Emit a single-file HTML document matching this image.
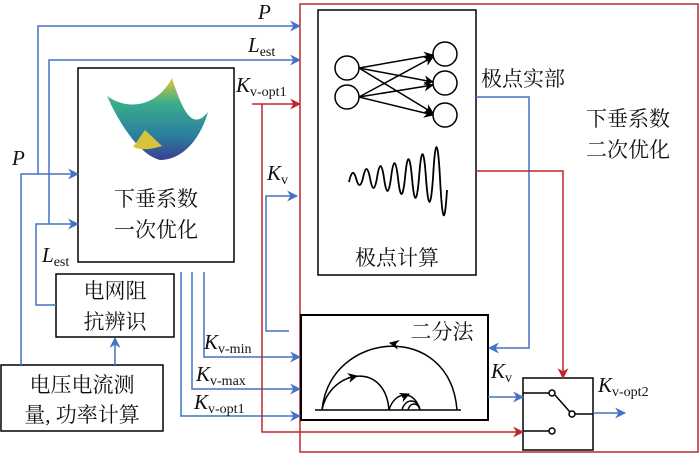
<!DOCTYPE html>
<html><head><meta charset="utf-8"><style>
html,body{margin:0;padding:0;background:#fff;}
svg{display:block;}
.cn{font-family:"Liberation Serif","Noto Serif CJK SC",serif;font-size:21px;fill:#111;}
.it{font-family:"Liberation Serif",serif;font-style:italic;font-size:21px;fill:#111;}
.sub{font-family:"Liberation Serif",serif;font-style:normal;font-size:14px;}
</style></head><body>
<svg width="700" height="455" viewBox="0 0 700 455" xmlns="http://www.w3.org/2000/svg">
<defs>
<marker id="ab" viewBox="0 0 10 10" refX="9" refY="5" markerWidth="11" markerHeight="11" markerUnits="userSpaceOnUse" orient="auto"><path d="M0,0 L10,5 L0,10 L3,5z" fill="#4472c4"/></marker>
<marker id="ar" viewBox="0 0 10 10" refX="9" refY="5" markerWidth="11" markerHeight="11" markerUnits="userSpaceOnUse" orient="auto"><path d="M0,0 L10,5 L0,10 L3,5z" fill="#c0272d"/></marker>
<marker id="ak" viewBox="0 0 10 10" refX="9" refY="5" markerWidth="10" markerHeight="10" markerUnits="userSpaceOnUse" orient="auto"><path d="M0,0 L10,5 L0,10 L3,5z" fill="#000"/></marker>
<linearGradient id="sg" x1="0" y1="0" x2="0" y2="1">
<stop offset="0" stop-color="#e8c53a"/><stop offset="0.3" stop-color="#3aae8a"/><stop offset="0.7" stop-color="#2a7fa0"/><stop offset="1" stop-color="#3b3f8f"/></linearGradient>
</defs>
<rect x="300" y="4" width="398" height="448" fill="none" stroke="#c0272d" stroke-width="1.5"/>
<rect x="78" y="68" width="156" height="194" fill="#fff" stroke="#000" stroke-width="1.5"/>
<rect x="318" y="10" width="158" height="265" fill="#fff" stroke="#000" stroke-width="1.5"/>
<rect x="56" y="274" width="118" height="63" fill="#fff" stroke="#000" stroke-width="1.5"/>
<rect x="1" y="365" width="162" height="66" fill="#fff" stroke="#000" stroke-width="1.5"/>
<rect x="301" y="315" width="187" height="105" fill="#fff" stroke="#000" stroke-width="2"/>
<rect x="523" y="378" width="70" height="72" fill="#fff" stroke="#000" stroke-width="1.5"/>

<g fill="none" stroke="#4472c4" stroke-width="1.5">
<path d="M38,174 V26 H300" marker-end="url(#ab)"/>
<path d="M49,224 V60 H300" marker-end="url(#ab)"/>
<path d="M21,365 V174 H78" marker-end="url(#ab)"/>
<path d="M56,305 H36 V224 H78" marker-end="url(#ab)"/>
<path d="M115,365 V338" marker-end="url(#ab)"/>
<path d="M289,331 H266 V196 H297" marker-end="url(#ab)"/>
<path d="M204,272 V357 H300" marker-end="url(#ab)"/>
<path d="M192,272 V389 H300" marker-end="url(#ab)"/>
<path d="M181,272 V416 H300" marker-end="url(#ab)"/>
<path d="M476,97 H529 V348 H489" marker-end="url(#ab)"/>
<path d="M488,397 H523" marker-end="url(#ab)"/>
<path d="M593,413 H625" marker-end="url(#ab)"/>
</g>
<g fill="none" stroke="#c0272d" stroke-width="1.5">
<path d="M252,104 H300" marker-end="url(#ar)"/>
<path d="M262,104 V432 H523" marker-end="url(#ar)"/>
<path d="M476,171 H563 V378" marker-end="url(#ar)"/>
</g>

<path d="M107,96 C120,125 140,155 160,160 C182,160 200,140 208,112 C195,128 185,120 172,78 C158,105 130,112 107,96Z" fill="url(#sg)"/>
<path d="M133,147 L145,130 L162,146 C150,150 140,150 133,147Z" fill="#d9c23d"/>

<g fill="#fff" stroke="#000" stroke-width="1.5">
<circle cx="347" cy="68" r="12"/><circle cx="347" cy="97" r="12"/>
<circle cx="445" cy="54" r="12"/><circle cx="445" cy="83" r="12"/><circle cx="445" cy="115" r="12"/>
</g>
<g stroke="#000" stroke-width="1.5" fill="none">
<path d="M359,68 L433,55" marker-end="url(#ak)"/><path d="M359,68 L433,82" marker-end="url(#ak)"/><path d="M359,68 L433,113" marker-end="url(#ak)"/>
<path d="M359,97 L433,57" marker-end="url(#ak)"/><path d="M359,97 L433,85" marker-end="url(#ak)"/><path d="M359,97 L433,115" marker-end="url(#ak)"/>
<path d="M349,182 Q352.5,166 356,178 Q359.5,192 363,178 Q366.5,160 370,178 Q373.5,198 377,178 Q380.5,154 384,178 Q387.5,204 391,178 Q394.5,148 398,178 Q401.5,210 405,178 Q408.5,140 412,178 Q415.5,218 419,178 Q422.5,130 426,178 Q429.5,226 433,178 Q436.5,116 440,178 Q443.5,246 447,190" stroke-width="1.8"/>
</g>

<g stroke="#000" stroke-width="1.5" fill="none">
<path d="M315,410 H461"/>
<path d="M322,410 C330,330 450,320 457,410"/>
<path d="M322,410 C330,370 385,360 389,410"/>
<path d="M389,410 C395,390 415,390 420,410"/>
<path d="M402,410 C405,398 418,398 420,410"/>
<path d="M408,410 C410,402 418,402 420,410"/>
<path d="M395,344 L390,343" marker-end="url(#ak)"/>
<path d="M348,378 L357,376" marker-end="url(#ak)"/>
<path d="M402,397 L409,394" marker-end="url(#ak)"/>
</g>
<g stroke="#000" stroke-width="1.5" fill="#fff">
<path d="M523,393 H549 M555,395 L570,412 M575,414 H593 M523,431 H549" fill="none"/>
<circle cx="552" cy="393" r="3"/><circle cx="572" cy="414" r="3"/><circle cx="552" cy="431" r="3"/>
</g>

<text class="it" x="258" y="19">P</text>
<text class="it" x="248" y="52">L<tspan class="sub" dy="4">est</tspan></text>
<text class="it" x="236" y="92">K<tspan class="sub" dy="4">v-opt1</tspan></text>
<text class="it" x="267" y="180">K<tspan class="sub" dy="4">v</tspan></text>
<text class="it" x="12" y="165">P</text>
<text class="it" x="42" y="262">L<tspan class="sub" dy="4">est</tspan></text>
<text class="it" x="204" y="349">K<tspan class="sub" dy="4">v-min</tspan></text>
<text class="it" x="196" y="381">K<tspan class="sub" dy="4">v-max</tspan></text>
<text class="it" x="194" y="409">K<tspan class="sub" dy="4">v-opt1</tspan></text>
<text class="it" x="491" y="378">K<tspan class="sub" dy="4">v</tspan></text>
<text class="it" x="598" y="392">K<tspan class="sub" dy="4">v-opt2</tspan></text>
<text class="cn" x="156" y="206" text-anchor="middle">下垂系数</text>
<text class="cn" x="156" y="237" text-anchor="middle">一次优化</text>
<text class="cn" x="397" y="265" text-anchor="middle">极点计算</text>
<text class="cn" x="481" y="86">极点实部</text>
<text class="cn" x="586" y="126">下垂系数</text>
<text class="cn" x="586" y="157">二次优化</text>
<text class="cn" x="115" y="298" text-anchor="middle">电网阻</text>
<text class="cn" x="115" y="329" text-anchor="middle">抗辨识</text>
<text class="cn" x="82" y="392" text-anchor="middle">电压电流测</text>
<text class="cn" x="82" y="422" text-anchor="middle">量, 功率计算</text>
<text class="cn" x="442" y="339" text-anchor="middle">二分法</text>
</svg>
</body></html>
